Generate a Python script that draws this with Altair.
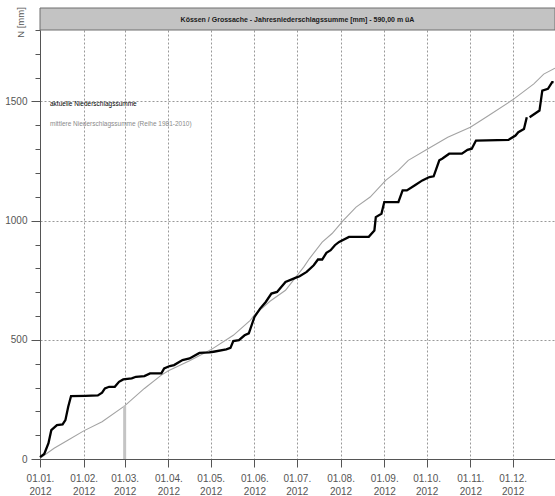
import altair as alt
import pandas as pd

# ---------------- data ----------------
black_dates = [
    "2012-01-01", "2012-01-04", "2012-01-07", "2012-01-09", "2012-01-13", "2012-01-17",
    "2012-01-19", "2012-01-21", "2012-01-23", "2012-02-02", "2012-02-11", "2012-02-14",
    "2012-02-16", "2012-02-19", "2012-02-23", "2012-02-26", "2012-02-29", "2012-03-06",
    "2012-03-09", "2012-03-15", "2012-03-19", "2012-03-27", "2012-03-29", "2012-04-02",
    "2012-04-05", "2012-04-11", "2012-04-16", "2012-04-23", "2012-04-30", "2012-05-03",
    "2012-05-12", "2012-05-15", "2012-05-17", "2012-05-21", "2012-05-25", "2012-05-28",
    "2012-06-01", "2012-06-05", "2012-06-09", "2012-06-13", "2012-06-17", "2012-06-23",
    "2012-06-30", "2012-07-03", "2012-07-08", "2012-07-13", "2012-07-16", "2012-07-19",
    "2012-07-22", "2012-07-25", "2012-07-28", "2012-07-31", "2012-08-07", "2012-08-21",
    "2012-08-25", "2012-08-26", "2012-08-30", "2012-09-01", "2012-09-11", "2012-09-14",
    "2012-09-17", "2012-09-23", "2012-09-28", "2012-10-03", "2012-10-06", "2012-10-10",
    "2012-10-12", "2012-10-17", "2012-10-26", "2012-10-30", "2012-11-02", "2012-11-05",
    "2012-11-28", "2012-12-03", "2012-12-05", "2012-12-09", "2012-12-11",
    "2012-12-13", "2012-12-20", "2012-12-22", "2012-12-26", "2012-12-29", "2012-12-30",
]
black_values = [
    8, 21, 66, 121, 142, 145,
    163, 219, 264, 265, 267, 278,
    296, 303, 303, 324, 334, 338,
    345, 348, 359, 359, 380, 390,
    394, 415, 422, 445, 447, 450,
    460, 466, 495, 499, 519, 527,
    596, 631, 659, 694, 701, 743,
    760, 767, 785, 813, 837, 837,
    865, 876, 897, 911, 932, 932,
    959, 1015, 1029, 1078, 1078, 1127,
    1127, 1150, 1169, 1183, 1186, 1253,
    1260, 1281, 1281, 1297, 1302, 1336,
    1339, 1357, 1371, 1385, 1434,
    1434, 1462, 1546, 1553, 1581, 1581,
]
black_segment = [1] * 77 + [2] * 6

mean_dates = [
    "2012-01-01", "2012-01-11", "2012-01-21", "2012-02-01", "2012-02-14", "2012-03-01",
    "2012-03-15", "2012-03-27", "2012-04-01", "2012-04-16", "2012-05-01", "2012-05-17",
    "2012-05-29", "2012-06-01", "2012-06-12", "2012-06-23", "2012-07-01", "2012-07-06",
    "2012-07-10", "2012-07-19", "2012-07-26", "2012-08-03", "2012-08-12", "2012-08-22",
    "2012-09-02", "2012-09-11", "2012-09-18", "2012-10-02", "2012-10-16", "2012-11-01",
    "2012-11-14", "2012-12-01", "2012-12-16", "2012-12-23", "2012-12-31",
]
mean_values = [
    3, 45, 80, 118, 156, 223,
    296, 352, 370, 412, 458, 519,
    582, 605, 662, 708, 768, 806,
    841, 910, 946, 1001, 1057, 1099,
    1169, 1211, 1253, 1302, 1350, 1392,
    1441, 1507, 1574, 1615, 1640,
]

marker_dates = ["2012-03-01"]
marker_values = [223]

month_numbers = list(range(1, 13))
y_tick_values = list(range(0, 1801, 100))

title_text = ["Kössen / Grossache - Jahresniederschlagssumme [mm] - 590,00 m üA"]
legend_actual = ["aktuelle Niederschlagssumme"]
legend_mean = ["mittlere Niederschlagssumme (Reihe 1981-2010)"]
y_title = "N [mm]"

# ---------------- frames ----------------
df_black = pd.DataFrame({"date": black_dates, "value": black_values, "seg": black_segment})
df_mean = pd.DataFrame({"date": mean_dates, "value": mean_values})
df_marker = pd.DataFrame({"date": marker_dates, "value": marker_values})

FONT = "Liberation Sans"
AXIS_COLOR = "#555555"
GRID_COLOR = "#999999"

x_enc = alt.X(
    "date:T",
    scale=alt.Scale(
        type="utc",
        domain=[alt.DateTime(year=2012, month=1, date=1, utc=True),
                alt.DateTime(year=2012, month=12, date=31, utc=True)],
    ),
    axis=alt.Axis(
        values=[alt.DateTime(year=2012, month=m, date=1, utc=True) for m in month_numbers],
        labelExpr="[utcFormat(datum.value, '%d.%m.'), utcFormat(datum.value, '%Y')]",
        title=None,
        grid=True,
        gridDash=[2, 2],
        gridColor=GRID_COLOR,
        gridWidth=1,
        tickSize=8,
        tickColor=AXIS_COLOR,
        domainColor=AXIS_COLOR,
        labelFont=FONT,
        labelFontSize=10,
        labelColor="#555555",
        labelPadding=6,
        labelLineHeight=13.5,
        labelAlign="center",
        labelFlush=False,
        labelOverlap=False,
    ),
)

y_enc = alt.Y(
    "value:Q",
    scale=alt.Scale(domain=[0, 1800], nice=False),
    axis=alt.Axis(
        values=y_tick_values,
        format="d",
        labelExpr="datum.value % 500 === 0 ? datum.label : ''",
        title=y_title,
        titleFont=FONT,
        titleFontSize=9.5,
        titleFontWeight="normal",
        titleColor="#555555",
        titleAngle=270,
        titleX=-20,
        titleY=-8,
        titleAlign="center",
        titleBaseline="middle",
        grid=True,
        gridDash=[2, 2],
        gridColor=GRID_COLOR,
        gridOpacity={"condition": {"test": "datum.value % 500 === 0 && datum.value > 0", "value": 1}, "value": 0},
        tickSize={"condition": {"test": "datum.value % 500 === 0", "value": 9}, "value": 5},
        tickColor=AXIS_COLOR,
        domainColor=AXIS_COLOR,
        labelFont=FONT,
        labelFontSize=10,
        labelColor="#555555",
        labelPadding=4,
    ),
)

mean_line = alt.Chart(df_mean).mark_line(color="#a3a3a3", strokeWidth=1.1).encode(
    x=x_enc, y=y_enc
)

marker = alt.Chart(df_marker).mark_rule(color="#c4c4c4", strokeWidth=3).encode(
    x=x_enc, y=y_enc, y2=alt.datum(0)
)

black_line = alt.Chart(df_black).mark_line(color="#000000", strokeWidth=2.3).encode(
    x=x_enc, y=y_enc, detail="seg:N"
)

band = alt.Chart(pd.DataFrame({"t": title_text})).mark_rect(
    fill="#c3c3c3", stroke="#6f6f6f", strokeWidth=1
).encode(
    x=alt.value(0), x2=alt.value(515), y=alt.value(-22), y2=alt.value(0)
)

band_text = alt.Chart(pd.DataFrame({"t": title_text})).mark_text(
    font=FONT, fontSize=7, fontWeight="bold", color="#1a1a1a", align="center", baseline="middle"
).encode(
    text="t:N", x=alt.value(257.5), y=alt.value(-10.5)
)

leg1 = alt.Chart(pd.DataFrame({"t": legend_actual})).mark_text(
    font=FONT, fontSize=6.5, color="#000000", align="left", baseline="middle"
).encode(text="t:N", x=alt.value(10), y=alt.value(73.5))

leg2 = alt.Chart(pd.DataFrame({"t": legend_mean})).mark_text(
    font=FONT, fontSize=6.5, color="#8a8a8a", align="left", baseline="middle"
).encode(text="t:N", x=alt.value(10), y=alt.value(94))

chart = alt.layer(
    mean_line, marker, black_line, band, band_text, leg1, leg2
).properties(
    width=515,
    height=429,
    autosize=alt.AutoSizeParams(type="none"),
    padding={"left": 40, "top": 30, "right": 0, "bottom": 37},
    background="#ffffff",
).configure_view(
    strokeWidth=0
)

chart.save("out.html", embed_options={"renderer": "svg", "actions": False})
